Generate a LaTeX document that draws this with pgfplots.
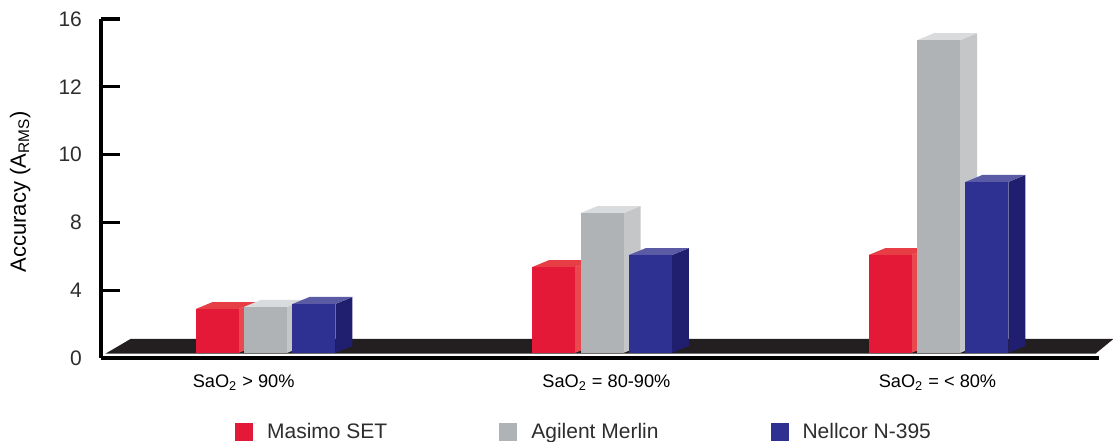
\documentclass[border=0pt]{standalone}
\usepackage{fontspec}
\setmainfont{Liberation Sans}
\usepackage{pgfplots}
\pgfplotsset{compat=1.18}

\definecolor{redF}{RGB}{227,25,55}
\definecolor{redT}{RGB}{231,62,70}
\definecolor{redS}{RGB}{233,72,78}
\definecolor{grayF}{RGB}{176,179,181}
\definecolor{grayT}{RGB}{218,219,220}
\definecolor{grayS}{RGB}{196,198,200}
\definecolor{blueF}{RGB}{46,49,146}
\definecolor{blueT}{RGB}{90,90,165}
\definecolor{blueS}{RGB}{32,30,110}
\definecolor{floor}{RGB}{35,31,32}
\definecolor{txt}{RGB}{45,45,45}

% 3D bar: #1 x centre, #2 value (top of front face), #3 front, #4 top, #5 side
\newcommand{\cube}[5]{%
  \pgfmathsetmacro\xl{#1-0.0639}%
  \pgfmathsetmacro\xr{#1+0.0639}%
  \pgfmathsetmacro\xlb{#1-0.0639+0.0505}%
  \pgfmathsetmacro\xrb{#1+0.0639+0.0505}%
  \pgfmathsetmacro\yt{#2+0.33}%
  \addplot[forget plot, fill=#5, draw=none] coordinates {(\xr,0.24) (\xrb,0.57) (\xrb,\yt) (\xr,#2)} -- cycle;
  \addplot[forget plot, fill=#4, draw=none] coordinates {(\xl,#2) (\xr,#2) (\xrb,\yt) (\xlb,\yt)} -- cycle;
  \addplot[forget plot, fill=#3, draw=none] coordinates {(\xl,0.24) (\xr,0.24) (\xr,#2) (\xl,#2)} -- cycle;
}

\begin{document}
\begin{tikzpicture}
\begin{axis}[
  width=499pt, height=169.5pt, scale only axis,
  xmin=-0.489, xmax=2.477, ymin=0, ymax=16,
  clip=false,
  axis lines*=left,
  axis line style={line width=1.9pt, black},
  ytick={0,3.2,6.4,9.6,12.8,16},
  yticklabels={0,4,8,10,12,16},
  ytick style={line width=1.6pt, black},
  major tick length=9.5pt,
  tick align=inside,
  yticklabel style={font=\fontsize{10.5}{12}\selectfont, text=txt, xshift=-6pt},
  xtick={-0.065,1.013,1.997},
  xticklabels={{SaO\textsubscript{2} > 90\%},{SaO\textsubscript{2} = 80-90\%},{SaO\textsubscript{2} = < 80\%}},
  x tick style={draw=none},
  xticklabel style={font=\fontsize{9.1}{11}\selectfont, text=black, yshift=-5pt},
  ylabel={Accuracy (A\textsubscript{RMS})},
  ylabel style={at={(rel axis cs:-0.081,0.49)}, anchor=center, font=\fontsize{11}{12}\selectfont, text=black},
  legend columns=3,
  legend style={at={(0.485,-0.218)}, anchor=center, draw=none, fill=none,
    font=\fontsize{10.5}{12}\selectfont, text=txt,
    /tikz/every even column/.append style={column sep=54pt},
    /tikz/every odd column/.append style={column sep=5pt}},
  legend image code/.code={\fill[#1] (0pt,-4.5pt) rectangle (9pt,4.5pt);},
]
\addlegendimage{fill=redF, draw=none}
\addlegendentry{Masimo SET}
\addlegendimage{fill=grayF, draw=none}
\addlegendentry{Agilent Merlin}
\addlegendimage{fill=blueF, draw=none}
\addlegendentry{Nellcor N-395}

% floor slab
\addplot[forget plot, fill=floor, draw=none] coordinates {(-0.475,0.21) (-0.401,0.90) (2.52,0.90) (2.467,0.21)} -- cycle;

% group 1: SaO2 > 90%
\cube{-0.144}{2.31}{redF}{redT}{redS}
\cube{0}{2.41}{grayF}{grayT}{grayS}
\cube{0.144}{2.55}{blueF}{blueT}{blueS}
% group 2: SaO2 = 80-90%
\cube{0.856}{4.29}{redF}{redT}{redS}
\cube{1}{6.84}{grayF}{grayT}{grayS}
\cube{1.144}{4.86}{blueF}{blueT}{blueS}
% group 3: SaO2 < 80%
\cube{1.856}{4.86}{redF}{redT}{redS}
\cube{2}{15.0}{grayF}{grayT}{grayS}
\cube{2.144}{8.31}{blueF}{blueT}{blueS}

\coordinate (BBsw) at (rel axis cs:-0.1012,-0.2478);
\coordinate (BBne) at (rel axis cs:1.0140,1.0560);
\end{axis}
\pgfresetboundingbox
\path[use as bounding box] (BBsw) rectangle (BBne);
\end{tikzpicture}
\end{document}
